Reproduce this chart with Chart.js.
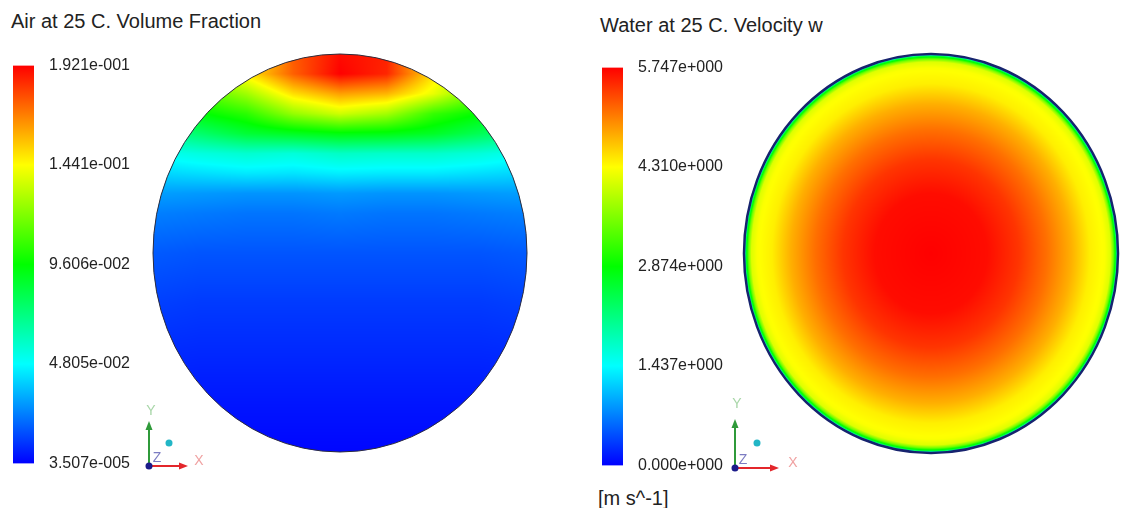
<!DOCTYPE html>
<html lang="en">
<head>
<meta charset="UTF-8">
<title>Air volume fraction and water velocity w</title>
<script src="https://cdn.jsdelivr.net/npm/chart.js"></script>
<style>
  body { margin: 0; background: #fff; }
  #page { position: relative; width: 1122px; height: 508px; overflow: hidden;
          font-family: 'Liberation Sans', Arial, sans-serif; color: #222; }
  #page canvas { position: absolute; }
  .label { position: absolute; font-size: 20px; line-height: 20px; white-space: nowrap; }
</style>
</head>
<body>
<div id="page">
  <div class="label" style="left:11px; top:11px">Air at 25 C. Volume Fraction</div>
  <div class="label" style="left:600px; top:15px">Water at 25 C. Velocity w</div>
  <div class="label" style="left:598px; top:488px">[m s^-1]</div>
  <canvas id="airBar" width="144" height="447" style="left:0; top:41px"></canvas>
  <canvas id="airField" width="400" height="440" style="left:135px; top:45px"></canvas>
  <canvas id="velBar" width="144" height="447" style="left:589px; top:43px"></canvas>
  <canvas id="velField" width="402" height="440" style="left:720px; top:45px"></canvas>
</div>

<script>
// colour map: blue -> cyan -> green -> yellow -> red
const rainbow = [[0, 0, 255], [0, 255, 255], [0, 255, 0], [255, 255, 0], [255, 0, 0]];

// Air volume fraction (left)
const airTicks = [3.507e-5, 4.805e-2, 9.606e-2, 1.441e-1, 1.921e-1];
const airTickLabels = ['3.507e-005', '4.805e-002', '9.606e-002', '1.441e-001', '1.921e-001'];
const airColX = [-1, -0.75, -0.5, -0.25, 0, 0.25, 0.5, 0.75, 1];
const airRowY = [1, 0.9, 0.8, 0.7, 0.6, 0.5, 0.4, 0.3, 0.2, 0, -0.25, -0.5, -0.75, -1];
const airGrid = [
  [0.130, 0.130, 0.140, 0.175, 0.190, 0.186, 0.145, 0.130, 0.130],
  [0.120, 0.128, 0.148, 0.174, 0.192, 0.185, 0.150, 0.128, 0.120],
  [0.102, 0.110, 0.126, 0.150, 0.162, 0.158, 0.140, 0.115, 0.102],
  [0.088, 0.095, 0.104, 0.124, 0.135, 0.127, 0.106, 0.096, 0.088],
  [0.066, 0.076, 0.086, 0.090, 0.094, 0.093, 0.089, 0.080, 0.070],
  [0.050, 0.054, 0.057, 0.055, 0.059, 0.058, 0.058, 0.055, 0.050],
  [0.040, 0.042, 0.044, 0.043, 0.045, 0.044, 0.044, 0.042, 0.040],
  [0.030, 0.029, 0.028, 0.028, 0.029, 0.028, 0.028, 0.029, 0.030],
  [0.024, 0.023, 0.022, 0.022, 0.023, 0.022, 0.022, 0.023, 0.024],
  [0.017, 0.016, 0.016, 0.016, 0.016, 0.016, 0.016, 0.016, 0.017],
  [0.012, 0.011, 0.011, 0.011, 0.011, 0.011, 0.011, 0.011, 0.012],
  [0.008, 0.0075, 0.0075, 0.0075, 0.0075, 0.0075, 0.0075, 0.0075, 0.008],
  [0.005, 0.004, 0.004, 0.004, 0.004, 0.004, 0.004, 0.004, 0.005],
  [0.001, 0.001, 0.001, 0.001, 0.001, 0.001, 0.001, 0.001, 0.001]
];

// Water velocity w (right), profile along the radius
const velTicks = [0, 1.437, 2.874, 4.310, 5.747];
const velTickLabels = ['0.000e+000', '1.437e+000', '2.874e+000', '4.310e+000', '5.747e+000'];
const velRadius = [0, 0.3, 0.47, 0.62, 0.75, 0.85, 0.93, 0.96, 0.975, 0.99, 1.0];
const velValues = [5.747, 5.68, 5.45, 5.12, 4.76, 4.40, 4.29, 4.12, 3.5, 2.5, 0.5];

const tickFont = { family: "'Liberation Sans', Arial, sans-serif", size: 16 };

function clamp01(v) { return Math.min(1, Math.max(0, v)); }

function rainbowRGB(t) {
  t = clamp01(t) * 4;
  const i = Math.min(3, Math.floor(t)), f = t - i;
  const a = rainbow[i], b = rainbow[i + 1];
  return [a[0] + (b[0] - a[0]) * f, a[1] + (b[1] - a[1]) * f, a[2] + (b[2] - a[2]) * f];
}

function airValue(x, y) {
  let i = 0, j = 0;
  while (i < airColX.length - 2 && x > airColX[i + 1]) i++;
  while (j < airRowY.length - 2 && y < airRowY[j + 1]) j++;
  const fx = clamp01((x - airColX[i]) / (airColX[i + 1] - airColX[i]));
  const fy = clamp01((airRowY[j] - y) / (airRowY[j] - airRowY[j + 1]));
  const top = airGrid[j][i] * (1 - fx) + airGrid[j][i + 1] * fx;
  const bot = airGrid[j + 1][i] * (1 - fx) + airGrid[j + 1][i + 1] * fx;
  return top * (1 - fy) + bot * fy;
}

function velValue(x, y) {
  const r = Math.sqrt(x * x + y * y);
  let k = 0;
  while (k < velRadius.length - 2 && r > velRadius[k + 1]) k++;
  const f = clamp01((r - velRadius[k]) / (velRadius[k + 1] - velRadius[k]));
  return velValues[k] * (1 - f) + velValues[k + 1] * f;
}

function drawTriad(ctx, t) {
  const { ox, oy, xLen, yLen } = t;
  ctx.save();
  ctx.lineWidth = 2;
  ctx.strokeStyle = ctx.fillStyle = '#2f9a3a';
  ctx.beginPath(); ctx.moveTo(ox, oy); ctx.lineTo(ox, oy - yLen + 8); ctx.stroke();
  ctx.beginPath(); ctx.moveTo(ox - 3.5, oy - yLen + 9); ctx.lineTo(ox, oy - yLen); ctx.lineTo(ox + 3.5, oy - yLen + 9); ctx.closePath(); ctx.fill();
  ctx.strokeStyle = ctx.fillStyle = '#e3262b';
  ctx.beginPath(); ctx.moveTo(ox, oy); ctx.lineTo(ox + xLen - 8, oy); ctx.stroke();
  ctx.beginPath(); ctx.moveTo(ox + xLen - 9, oy - 3.5); ctx.lineTo(ox + xLen, oy); ctx.lineTo(ox + xLen - 9, oy + 3.5); ctx.closePath(); ctx.fill();
  ctx.fillStyle = '#1b1b8a';
  ctx.beginPath(); ctx.arc(ox, oy, 3.5, 0, Math.PI * 2); ctx.fill();
  ctx.fillStyle = '#22b6c6';
  ctx.beginPath(); ctx.arc(ox + t.dot[0], oy + t.dot[1], 3.5, 0, Math.PI * 2); ctx.fill();
  ctx.font = "14px 'Liberation Sans', Arial, sans-serif";
  ctx.textAlign = 'center';
  ctx.fillStyle = '#a8d6a8'; ctx.fillText('Y', ox + 2, oy - t.yLabel);
  ctx.fillStyle = '#f0a2a2'; ctx.fillText('X', ox + t.xLabel, oy - 1);
  ctx.fillStyle = '#7c7cc2'; ctx.fillText('Z', ox + 8, oy - 4);
  ctx.restore();
}

function fieldPlugin(cfg) {
  return {
    id: 'field',
    beforeDatasetsDraw(chart) {
      const { ctx, chartArea: a, scales: { x, y } } = chart;
      const left = Math.floor(a.left), top = Math.floor(a.top);
      const w = Math.ceil(a.right) - left, h = Math.ceil(a.bottom) - top;
      const off = document.createElement('canvas');
      off.width = w; off.height = h;
      const octx = off.getContext('2d');
      const img = octx.createImageData(w, h);
      for (let py = 0; py < h; py++) {
        const vy = y.getValueForPixel(top + py + 0.5);
        for (let px = 0; px < w; px++) {
          const vx = x.getValueForPixel(left + px + 0.5);
          if (vx * vx + vy * vy > 1.05) continue;
          const c = rainbowRGB((cfg.sample(vx, vy) - cfg.min) / (cfg.max - cfg.min));
          const k = (py * w + px) * 4;
          img.data[k] = c[0]; img.data[k + 1] = c[1]; img.data[k + 2] = c[2]; img.data[k + 3] = 255;
        }
      }
      octx.putImageData(img, 0, 0);
      const cx = x.getPixelForValue(0), cy = y.getPixelForValue(0);
      const rx = x.getPixelForValue(1) - cx, ry = y.getPixelForValue(-1) - cy;
      ctx.save();
      ctx.beginPath(); ctx.ellipse(cx, cy, rx, ry, 0, 0, Math.PI * 2); ctx.clip();
      ctx.drawImage(off, left, top);
      ctx.restore();
      ctx.save();
      ctx.beginPath(); ctx.ellipse(cx, cy, rx, ry, 0, 0, Math.PI * 2);
      ctx.lineWidth = cfg.edgeWidth; ctx.strokeStyle = cfg.edgeColor; ctx.stroke();
      ctx.restore();
    },
    afterDraw(chart) { drawTriad(chart.ctx, cfg.triad); }
  };
}

function fieldChart(id, padding, cfg) {
  return new Chart(document.getElementById(id), {
    type: 'scatter',
    data: { datasets: [] },
    options: {
      responsive: false, animation: false, layout: { padding },
      plugins: { legend: { display: false }, tooltip: { enabled: false } },
      scales: {
        x: { type: 'linear', min: -1, max: 1, display: false },
        y: { type: 'linear', min: -1, max: 1, display: false }
      }
    },
    plugins: [fieldPlugin(cfg)]
  });
}

// tick padding (15) + half the label height decides the bar's top and bottom
function colourBar(id, ticks, labels) {
  const lo = ticks[0], hi = ticks[ticks.length - 1];
  return new Chart(document.getElementById(id), {
    type: 'bar',
    data: {
      labels: [''],
      datasets: [{
        data: [[lo, hi]], barPercentage: 1, categoryPercentage: 1, borderWidth: 0,
        backgroundColor: c => {
          const s = c.chart.scales.y;
          const y0 = s ? s.getPixelForValue(lo) : NaN, y1 = s ? s.getPixelForValue(hi) : NaN;
          if (!c.chart.chartArea || !isFinite(y0) || !isFinite(y1)) return 'rgb(0,255,0)';
          const g = c.chart.ctx.createLinearGradient(0, y0, 0, y1);
          rainbow.forEach((col, i) => g.addColorStop(i / 4, `rgb(${col.join(',')})`));
          return g;
        }
      }]
    },
    options: {
      responsive: false, animation: false,
      layout: { padding: { left: 13, right: 0, top: 0, bottom: 0 } },
      plugins: { legend: { display: false }, tooltip: { enabled: false } },
      scales: {
        x: { display: false },
        y: {
          position: 'right', min: lo, max: hi,
          grid: { display: false, drawTicks: false }, border: { display: false },
          afterBuildTicks: s => { s.ticks = ticks.map(v => ({ value: v })); },
          afterFit: s => { s.width = 110; },
          ticks: { padding: 15, color: '#222', font: tickFont, autoSkip: false,
                   callback: (v, i) => labels[i] }
        }
      }
    }
  });
}

colourBar('airBar', airTicks, airTickLabels);
colourBar('velBar', velTicks, velTickLabels);

fieldChart('airField', { left: 18, right: 8, top: 9, bottom: 33 }, {
  sample: airValue, min: airTicks[0], max: airTicks[4],
  edgeColor: '#2c2c3c', edgeWidth: 1,
  triad: { ox: 14, oy: 421, xLen: 39, yLen: 45, yLabel: 51, xLabel: 50, dot: [20, -23] }
});

fieldChart('velField', { left: 24, right: 4, top: 9, bottom: 32 }, {
  sample: velValue, min: velTicks[0], max: velTicks[4],
  edgeColor: '#17236e', edgeWidth: 2.5,
  triad: { ox: 15, oy: 423, xLen: 44, yLen: 49, yLabel: 60, xLabel: 58, dot: [22, -25] }
});
</script>
</body>
</html>
